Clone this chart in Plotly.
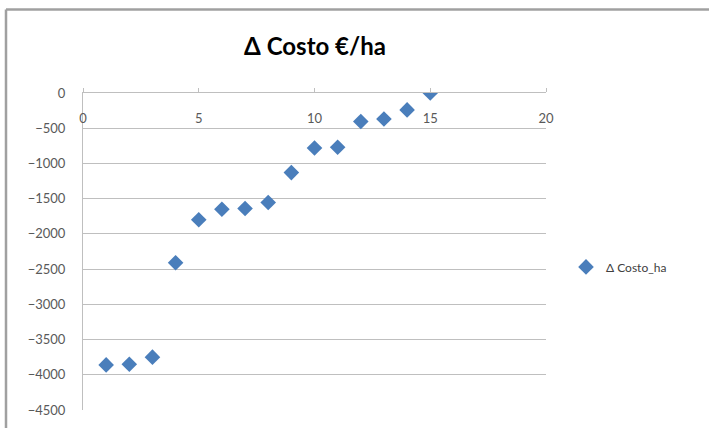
import plotly.graph_objects as go

# Scenario index and cost difference per hectare (€/ha)
scenario = [1, 2, 3, 4, 5, 6, 7, 8, 9, 10, 11, 12, 13, 14, 15]
delta_costo = [-3860, -3850, -3750, -2410, -1800, -1650, -1640, -1555,
               -1130, -780, -770, -405, -370, -240, 0]

series_name = "Δ Costo_ha"
title_text = "Δ Costo €/ha"
x_ticks = [0, 5, 10, 15, 20]
y_ticks = list(range(0, -5000, -500))

W, H = 709, 430
L, R, T, B = 83, 163, 93, 18
pw, ph = W - L - R, H - T - B

fig = go.Figure()
fig.add_trace(go.Scatter(
    x=scenario, y=delta_costo, mode="markers", name=series_name,
    marker=dict(symbol="diamond", size=12, color="#4A7EBB",
                line=dict(width=0)),
    showlegend=True,
))
# invisible companion trace so the top axis (tick marks at y = 0) is drawn
fig.add_trace(go.Scatter(x=[0, 20], y=[0, 0], xaxis="x2", mode="none",
                         showlegend=False, hoverinfo="skip"))

font_family = "Lato, Open Sans, sans-serif"
grid = "#BFBFBF"

fig.update_layout(
    width=W, height=H,
    margin=dict(l=L, r=R, t=T, b=B),
    paper_bgcolor="white", plot_bgcolor="white",
    font=dict(family=font_family, color="#595959", size=13),
    title=dict(text="<b>" + title_text + "</b>", x=315 / W, xanchor="center",
               y=1 - 47 / H, yanchor="middle",
               font=dict(size=24, color="#000000", family=font_family)),
    showlegend=True,
    legend=dict(x=(566 - L) / pw, y=(H - B - 268) / ph, xanchor="left",
                yanchor="middle", bgcolor="rgba(0,0,0,0)",
                font=dict(size=12, color="#404040"), itemwidth=30),
    # tick labels sit just under the zero line, as where the axes cross
    xaxis=dict(range=[0, 20], tickvals=x_ticks, anchor="free",
               position=(H - B - 109) / ph, side="bottom",
               ticks="", showline=False, showgrid=False, zeroline=False,
               tickfont=dict(size=13, color="#595959")),
    xaxis2=dict(range=[0, 20], tickvals=x_ticks, overlaying="x",
                matches="x", side="top", anchor="y",
                ticks="outside", ticklen=4, tickcolor=grid,
                showticklabels=False, showline=True, linecolor=grid,
                linewidth=1, showgrid=False, zeroline=False),
    yaxis=dict(range=[-4500, 0], tickvals=y_ticks, showline=True,
               linecolor=grid, linewidth=1, showgrid=True,
               gridcolor=grid, gridwidth=1, zeroline=False,
               ticks="outside", ticklen=0, ticklabelstandoff=14,
               tickfont=dict(size=13, color="#595959")),
)

# Chart frame: top and left edges of the outer border
frame_top = (H - B - 9) / ph
frame_left = (6 - L) / pw
frame_right = (W - L) / pw
frame_bottom = (H - B - H) / ph
fig.add_shape(type="line", xref="paper", yref="paper",
              x0=frame_left, x1=frame_right, y0=frame_top, y1=frame_top,
              line=dict(color="#A0A0A0", width=2.5), layer="above")
fig.add_shape(type="line", xref="paper", yref="paper",
              x0=frame_left, x1=frame_left, y0=frame_bottom, y1=frame_top,
              line=dict(color="#A0A0A0", width=2.5), layer="above")

fig.write_html("out.html", config={"displayModeBar": False})
